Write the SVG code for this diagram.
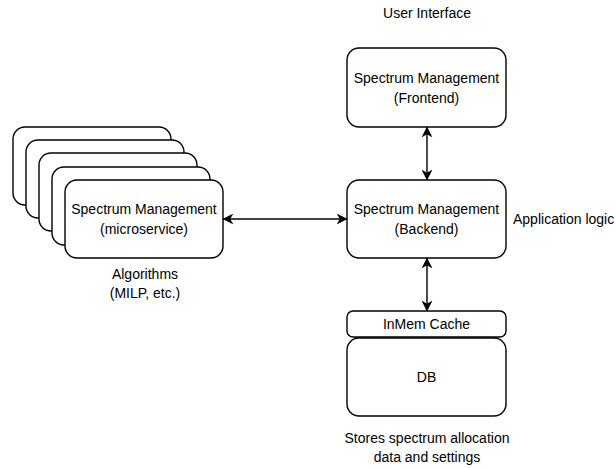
<svg xmlns="http://www.w3.org/2000/svg" width="616" height="468" viewBox="0 0 616 468">
  <style>
    .box { fill: #ffffff; stroke: #000000; stroke-width: 1.4; }
    .txt { font-family: "Liberation Sans", Arial, sans-serif; font-size: 14px; fill: #000000; text-anchor: middle; }
    .lbl { font-family: "Liberation Sans", Arial, sans-serif; font-size: 14px; fill: #000000; }
    .edge { stroke: #000000; stroke-width: 1.4; fill: none; marker-start: url(#arr); marker-end: url(#arr); }
  </style>
  <defs>
    <marker id="arr" viewBox="0 0 10 10" refX="9.5" refY="5" markerWidth="11" markerHeight="11" markerUnits="userSpaceOnUse" orient="auto-start-reverse">
      <path d="M0,0 L10,5 L0,10 L3,5 Z" fill="#000000"/>
    </marker>
  </defs>

  <rect width="616" height="468" fill="#ffffff"/>

  <!-- stacked microservice instances -->
  <g id="microservice">
    <rect class="box" x="13" y="127" width="158" height="78" rx="12"/>
    <rect class="box" x="26" y="140" width="158" height="78" rx="12"/>
    <rect class="box" x="39" y="153" width="158" height="78" rx="12"/>
    <rect class="box" x="52" y="167" width="158" height="78" rx="12"/>
    <rect class="box" x="65" y="180" width="158" height="78" rx="12"/>
    <text class="txt" x="144" y="214">Spectrum Management</text>
    <text class="txt" x="144" y="234">(microservice)</text>
  </g>

  <g id="frontend">
    <rect class="box" x="347" y="48" width="159" height="79" rx="12"/>
    <text class="txt" x="426.5" y="83">Spectrum Management</text>
    <text class="txt" x="426.5" y="103">(Frontend)</text>
  </g>

  <g id="backend">
    <rect class="box" x="347" y="180" width="159" height="78" rx="12"/>
    <text class="txt" x="426.5" y="214">Spectrum Management</text>
    <text class="txt" x="426.5" y="234">(Backend)</text>
  </g>

  <g id="cache">
    <rect class="box" x="347" y="311" width="159" height="26" rx="6"/>
    <text class="txt" x="426.5" y="329">InMem Cache</text>
  </g>

  <g id="db">
    <rect class="box" x="347" y="338" width="159" height="78" rx="12"/>
    <text class="txt" x="426.5" y="382">DB</text>
  </g>

  <g id="labels">
    <text class="txt" x="427" y="18">User Interface</text>
    <text class="lbl" x="513" y="224">Application logic</text>
    <text class="txt" x="145" y="279">Algorithms</text>
    <text class="txt" x="145" y="298">(MILP, etc.)</text>
    <text class="txt" x="427" y="443">Stores spectrum allocation</text>
    <text class="txt" x="427" y="462">data and settings</text>
  </g>

  <g id="connectors">
    <line class="edge" x1="427" y1="127" x2="427" y2="180"/>
    <line class="edge" x1="223" y1="219" x2="347" y2="219"/>
    <line class="edge" x1="427" y1="258" x2="427" y2="311"/>
  </g>
</svg>
